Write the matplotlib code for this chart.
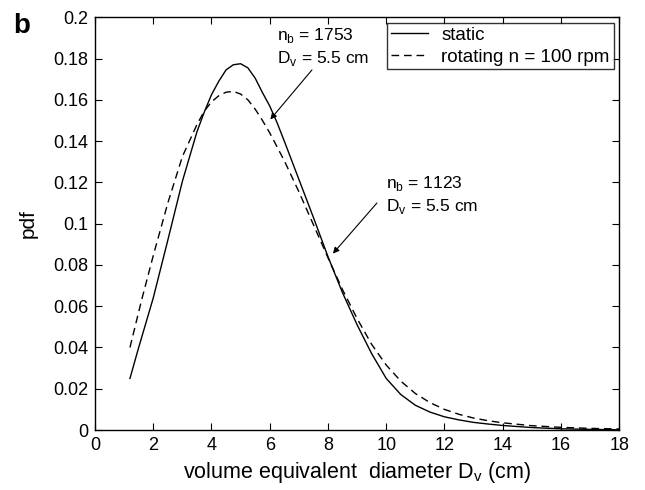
"""
pdf of volume equivalent bubble diameter, static vs rotating
"""

import matplotlib
matplotlib.use('Agg')
import matplotlib.pyplot as plt
from matplotlib.ticker import FormatStrFormatter

plt.rcParams['font.family'] = ['Liberation Sans', 'DejaVu Sans']
plt.rcParams['mathtext.fontset'] = 'custom'
plt.rcParams['mathtext.rm'] = 'Liberation Sans'

###data
static_x = [1.2, 1.5, 2.0, 2.5, 3.0, 3.5, 3.75, 4.0, 4.25, 4.5, 4.75, 5.0, 5.25,
            5.5, 5.75, 6.0, 6.25, 6.5, 7.0, 7.5, 8.0, 8.5, 9.0, 9.5, 10.0, 10.5,
            11.0, 11.5, 12.0, 12.5, 13.0, 13.5, 14.0, 15.0, 16.0, 17.0, 18.0]
static_y = [0.025, 0.040, 0.064, 0.092, 0.1205, 0.1445, 0.154, 0.1625, 0.169,
            0.1745, 0.1770, 0.1775, 0.1755, 0.1705, 0.1635, 0.157, 0.149, 0.140,
            0.1215, 0.103, 0.084, 0.0665, 0.051, 0.037, 0.025, 0.0172, 0.0120,
            0.0087, 0.0064, 0.0049, 0.0037, 0.0029, 0.0022, 0.0012, 0.0006,
            0.0003, 0.0001]

rot_x = [1.2, 1.6, 2.0, 2.5, 3.0, 3.5, 3.75, 4.0, 4.25, 4.5, 4.75, 5.0, 5.25,
         5.5, 5.75, 6.0, 6.5, 7.0, 7.5, 8.0, 8.5, 9.0, 9.5, 10.0, 10.5, 11.0,
         11.5, 12.0, 12.5, 13.0, 13.5, 14.0, 15.0, 16.0, 17.0, 18.0]
rot_y = [0.040, 0.063, 0.0845, 0.110, 0.1325, 0.148, 0.1545, 0.159, 0.162,
         0.1637, 0.1641, 0.1628, 0.160, 0.1555, 0.150, 0.144, 0.1305, 0.1155,
         0.0995, 0.0835, 0.068, 0.054, 0.0415, 0.0315, 0.0237, 0.0177, 0.0133,
         0.0100, 0.0076, 0.0058, 0.0045, 0.0035, 0.0021, 0.0013, 0.0008, 0.0005]

xticks = list(range(0, 19, 2))
yticks = [0, 0.02, 0.04, 0.06, 0.08, 0.1, 0.12, 0.14, 0.16, 0.18, 0.2]

fig = plt.figure(figsize=(6.45, 4.9), dpi=100)
plot = fig.add_axes([0.1473, 0.1224, 0.8127, 0.8423])

##curves
plot.plot(static_x, static_y, color='k', lw=1.0, label='static',
          solid_joinstyle='round')
plot.plot(rot_x, rot_y, color='k', lw=1.0, ls=(0, (5.5, 3.5)),
          label='rotating n = 100 rpm')

plot.set_xlim(0, 18)
plot.set_ylim(0, 0.2)
plot.set_xticks(xticks)
plot.set_yticks(yticks)
plot.yaxis.set_major_formatter(FormatStrFormatter('%g'))
plot.tick_params(axis='both', direction='in', top=True, right=True,
                 length=5, width=0.8, labelsize=13, pad=5)
for spine in plot.spines.values():
    spine.set_linewidth(1.0)

plot.set_xlabel(r'volume equivalent  diameter D$_\mathregular{v}$ (cm)', fontsize=15.5,
                labelpad=4)
plot.set_ylabel('pdf', fontsize=15, labelpad=11)

##legend
leg = plot.legend(loc='upper right', fancybox=False, edgecolor='k', fontsize=13.5,
                  borderaxespad=0.3, handlelength=2.0, borderpad=0.2,
                  labelspacing=0.25, handletextpad=0.7)
leg.get_frame().set_linewidth(1.0)

##annotations
arrow = dict(arrowstyle='-|>', color='k', lw=0.8, mutation_scale=9,
             shrinkA=0, shrinkB=0)
plot.text(6.25, 0.1857, 'n$_\\mathregular{b}$ = 1753\nD$_\\mathregular{v}$ = 5.5 cm',
          fontsize=12.5, ha='left', va='center', linespacing=1.25)
plot.annotate('', xy=(6.02, 0.1505), xytext=(7.45, 0.1745), arrowprops=arrow)
plot.text(9.99, 0.114, 'n$_\\mathregular{b}$ = 1123\nD$_\\mathregular{v}$ = 5.5 cm',
          fontsize=12.5, ha='left', va='center', linespacing=1.25)
plot.annotate('', xy=(8.17, 0.0855), xytext=(9.68, 0.110), arrowprops=arrow)

fig.text(0.02, 0.933, 'b', fontsize=20, fontweight='bold', va='baseline')

fig.savefig('out.png', dpi=100)
